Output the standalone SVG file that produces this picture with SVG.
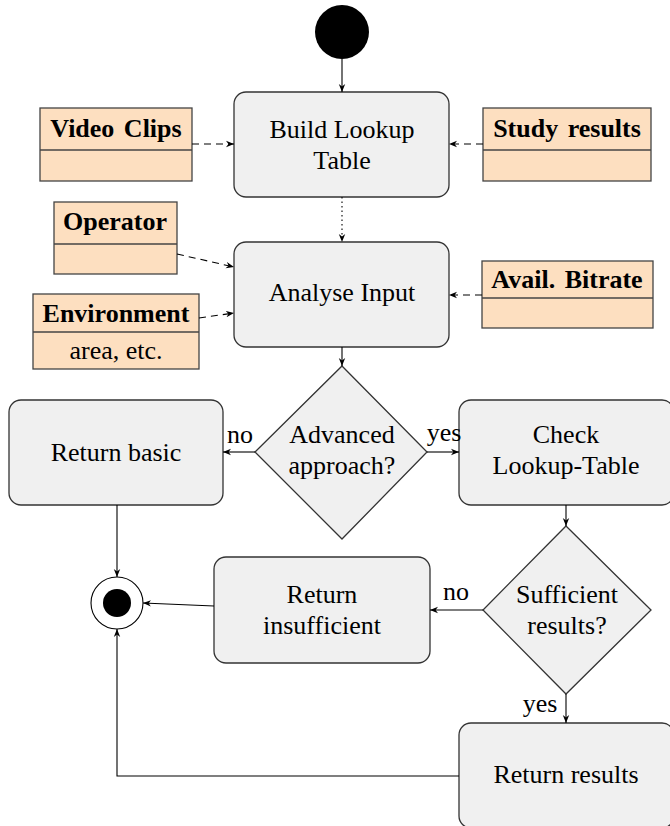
<svg xmlns="http://www.w3.org/2000/svg" width="670" height="826" viewBox="0 0 670 826">
<defs>
<marker id="ah" viewBox="0 0 10 10" refX="10" refY="5" markerWidth="8" markerHeight="8" markerUnits="userSpaceOnUse" orient="auto">
<path d="M0,1 L10,5 L0,9 L3,5 Z" fill="#000"/>
</marker>
<style>
.act{fill:#f0f0f0;stroke:#333;stroke-width:1.3}
.cls{fill:#fddfc0;stroke:#444;stroke-width:1.3}
.t{font-family:"Liberation Serif","Times New Roman",serif;font-size:26px;fill:#000;text-anchor:middle}
.b{font-weight:bold;word-spacing:3px}
.c{fill:none;stroke:#000;stroke-width:1.1;marker-end:url(#ah)}
.d{stroke-dasharray:7,5}
.o{stroke-dasharray:1.5,3}
</style>
</defs>
<g id="start"><circle cx="342" cy="32" r="27" fill="#000"/></g>
<g id="build"><rect class="act" x="234" y="92" width="215" height="105" rx="12"/><text class="t" x="342" y="138">Build Lookup</text><text class="t" x="342" y="169">Table</text></g>
<g id="videoclips"><rect class="cls" x="40" y="108" width="152" height="73"/><line x1="40" y1="150" x2="192" y2="150" stroke="#444" stroke-width="1.3"/><text class="t b" x="116" y="137">Video Clips</text></g>
<g id="studyresults"><rect class="cls" x="483" y="108" width="168" height="73"/><line x1="483" y1="150" x2="651" y2="150" stroke="#444" stroke-width="1.3"/><text class="t b" x="567" y="137">Study results</text></g>
<g id="analyse"><rect class="act" x="234" y="242" width="215" height="105" rx="12"/><text class="t" x="342" y="301">Analyse Input</text></g>
<g id="operator"><rect class="cls" x="54" y="202" width="123" height="72"/><line x1="54" y1="244" x2="177" y2="244" stroke="#444" stroke-width="1.3"/><text class="t b" x="115" y="230">Operator</text></g>
<g id="environment"><rect class="cls" x="33" y="294" width="166" height="75"/><line x1="33" y1="332" x2="199" y2="332" stroke="#444" stroke-width="1.3"/><text class="t b" x="116" y="322">Environment</text><text class="t" x="116" y="359">area, etc.</text></g>
<g id="bitrate"><rect class="cls" x="482" y="261" width="171" height="67"/><line x1="482" y1="298" x2="653" y2="298" stroke="#444" stroke-width="1.3"/><text class="t b" x="567" y="288">Avail. Bitrate</text></g>
<g id="advanced"><polygon class="act" points="342,366 427,452 342,539 255,452"/><text class="t" x="342" y="443">Advanced</text><text class="t" x="342" y="474">approach?</text></g>
<g id="returnbasic"><rect class="act" x="9" y="400" width="214" height="105" rx="12"/><text class="t" x="116" y="461">Return basic</text></g>
<g id="checklookup"><rect class="act" x="459" y="400" width="215" height="105" rx="12"/><text class="t" x="566" y="443">Check</text><text class="t" x="566" y="474">Lookup-Table</text></g>
<g id="end"><circle cx="117" cy="603" r="26" fill="#fff" stroke="#000" stroke-width="1.1"/><circle cx="117" cy="603" r="14" fill="#000"/></g>
<g id="sufficient"><polygon class="act" points="566,526 651,610 566,694 483,610"/><text class="t" x="567" y="603">Sufficient</text><text class="t" x="567" y="634">results?</text></g>
<g id="returninsufficient"><rect class="act" x="214" y="557" width="216" height="106" rx="12"/><text class="t" x="322" y="603">Return</text><text class="t" x="322" y="634">insufficient</text></g>
<g id="returnresults"><rect class="act" x="459" y="723" width="215" height="105" rx="12"/><text class="t" x="566" y="783">Return results</text></g>
<g id="connectors">
<line class="c" x1="342" y1="59" x2="342" y2="92"/>
<line class="c d" x1="192" y1="144" x2="234" y2="144"/>
<line class="c d" x1="483" y1="144" x2="449" y2="144"/>
<line class="c o" x1="342" y1="197" x2="342" y2="242"/>
<line class="c d" x1="177" y1="254" x2="234" y2="267"/>
<line class="c d" x1="199" y1="318" x2="234" y2="313"/>
<line class="c d" x1="482" y1="295" x2="449" y2="295"/>
<line class="c" x1="342" y1="347" x2="342" y2="366"/>
<line class="c" x1="255" y1="452" x2="223" y2="452"/>
<line class="c" x1="427" y1="452" x2="459" y2="452"/>
<line class="c" x1="117" y1="505" x2="117" y2="577"/>
<line class="c" x1="566" y1="505" x2="566" y2="526"/>
<line class="c" x1="483" y1="610" x2="430" y2="610"/>
<line class="c" x1="214" y1="606" x2="143" y2="603"/>
<line class="c" x1="566" y1="694" x2="566" y2="723"/>
<polyline class="c" points="459,776 117,776 117,629"/>
<text class="t" x="240" y="443">no</text>
<text class="t" x="444" y="441">yes</text>
<text class="t" x="456" y="600">no</text>
<text class="t" x="540" y="712">yes</text>
</g>
</svg>
